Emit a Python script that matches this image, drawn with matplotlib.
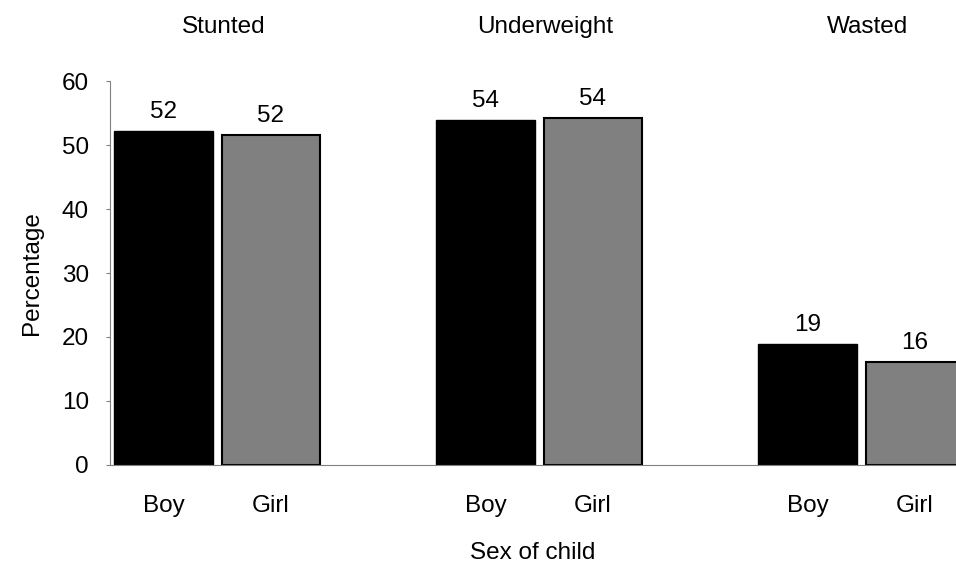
import matplotlib.pyplot as plt
import numpy as np

# datos
categories = ["Stunted", "Underweight", "Wasted"]
sexes = ["Boy", "Girl"]
boy_values = [52.2, 53.9, 18.9]
girl_values = [51.6, 54.2, 16.1]
boy_labels = ["52", "54", "19"]
girl_labels = ["52", "54", "16"]
y_ticks = [0, 10, 20, 30, 40, 50, 60]

plt.rcParams['font.family'] = ['Liberation Sans', 'DejaVu Sans']

fig = plt.figure(figsize=(9.56, 5.67), dpi=100)
ax = fig.add_axes([0.115, 0.18, 0.885, 0.677])

x = np.arange(len(categories))
w = 0.307
off = 0.167

ax.bar(x - off, boy_values, w, color="black", edgecolor="black", linewidth=1)
ax.bar(x + off, girl_values, w, color="#808080", edgecolor="black", linewidth=1.5)

for i in range(len(categories)):
    ax.text(x[i] - off, boy_values[i] + 1.3, boy_labels[i], ha="center", va="bottom", fontsize=17.5)
    ax.text(x[i] + off, girl_values[i] + 1.3, girl_labels[i], ha="center", va="bottom", fontsize=17.5)
    # titulo de cada grupo arriba
    ax.text(x[i] + 0.02, 68.4, categories[i], ha="center", va="center", fontsize=17.5)

ax.set_xlim(-0.333, -0.333 + 846 / 322)
ax.set_ylim(0, 60)
ax.set_yticks(y_ticks)
ax.tick_params(axis="y", labelsize=17.5, length=3, color="#808080", pad=12)

pos = np.concatenate([x - off, x + off])
labs = [sexes[0]] * len(x) + [sexes[1]] * len(x)
ax.set_xticks(pos)
ax.set_xticklabels(labs, fontsize=17.5)
ax.tick_params(axis="x", length=0, pad=22)

ax.set_xlabel("Sex of child", fontsize=17.5, labelpad=18)
ax.set_ylabel("Percentage", fontsize=17.5, labelpad=14)

for s in ["top", "right"]:
    ax.spines[s].set_visible(False)
ax.spines["left"].set_color("#808080")
ax.spines["bottom"].set_color("#808080")

plt.savefig("out.png", dpi=100)
